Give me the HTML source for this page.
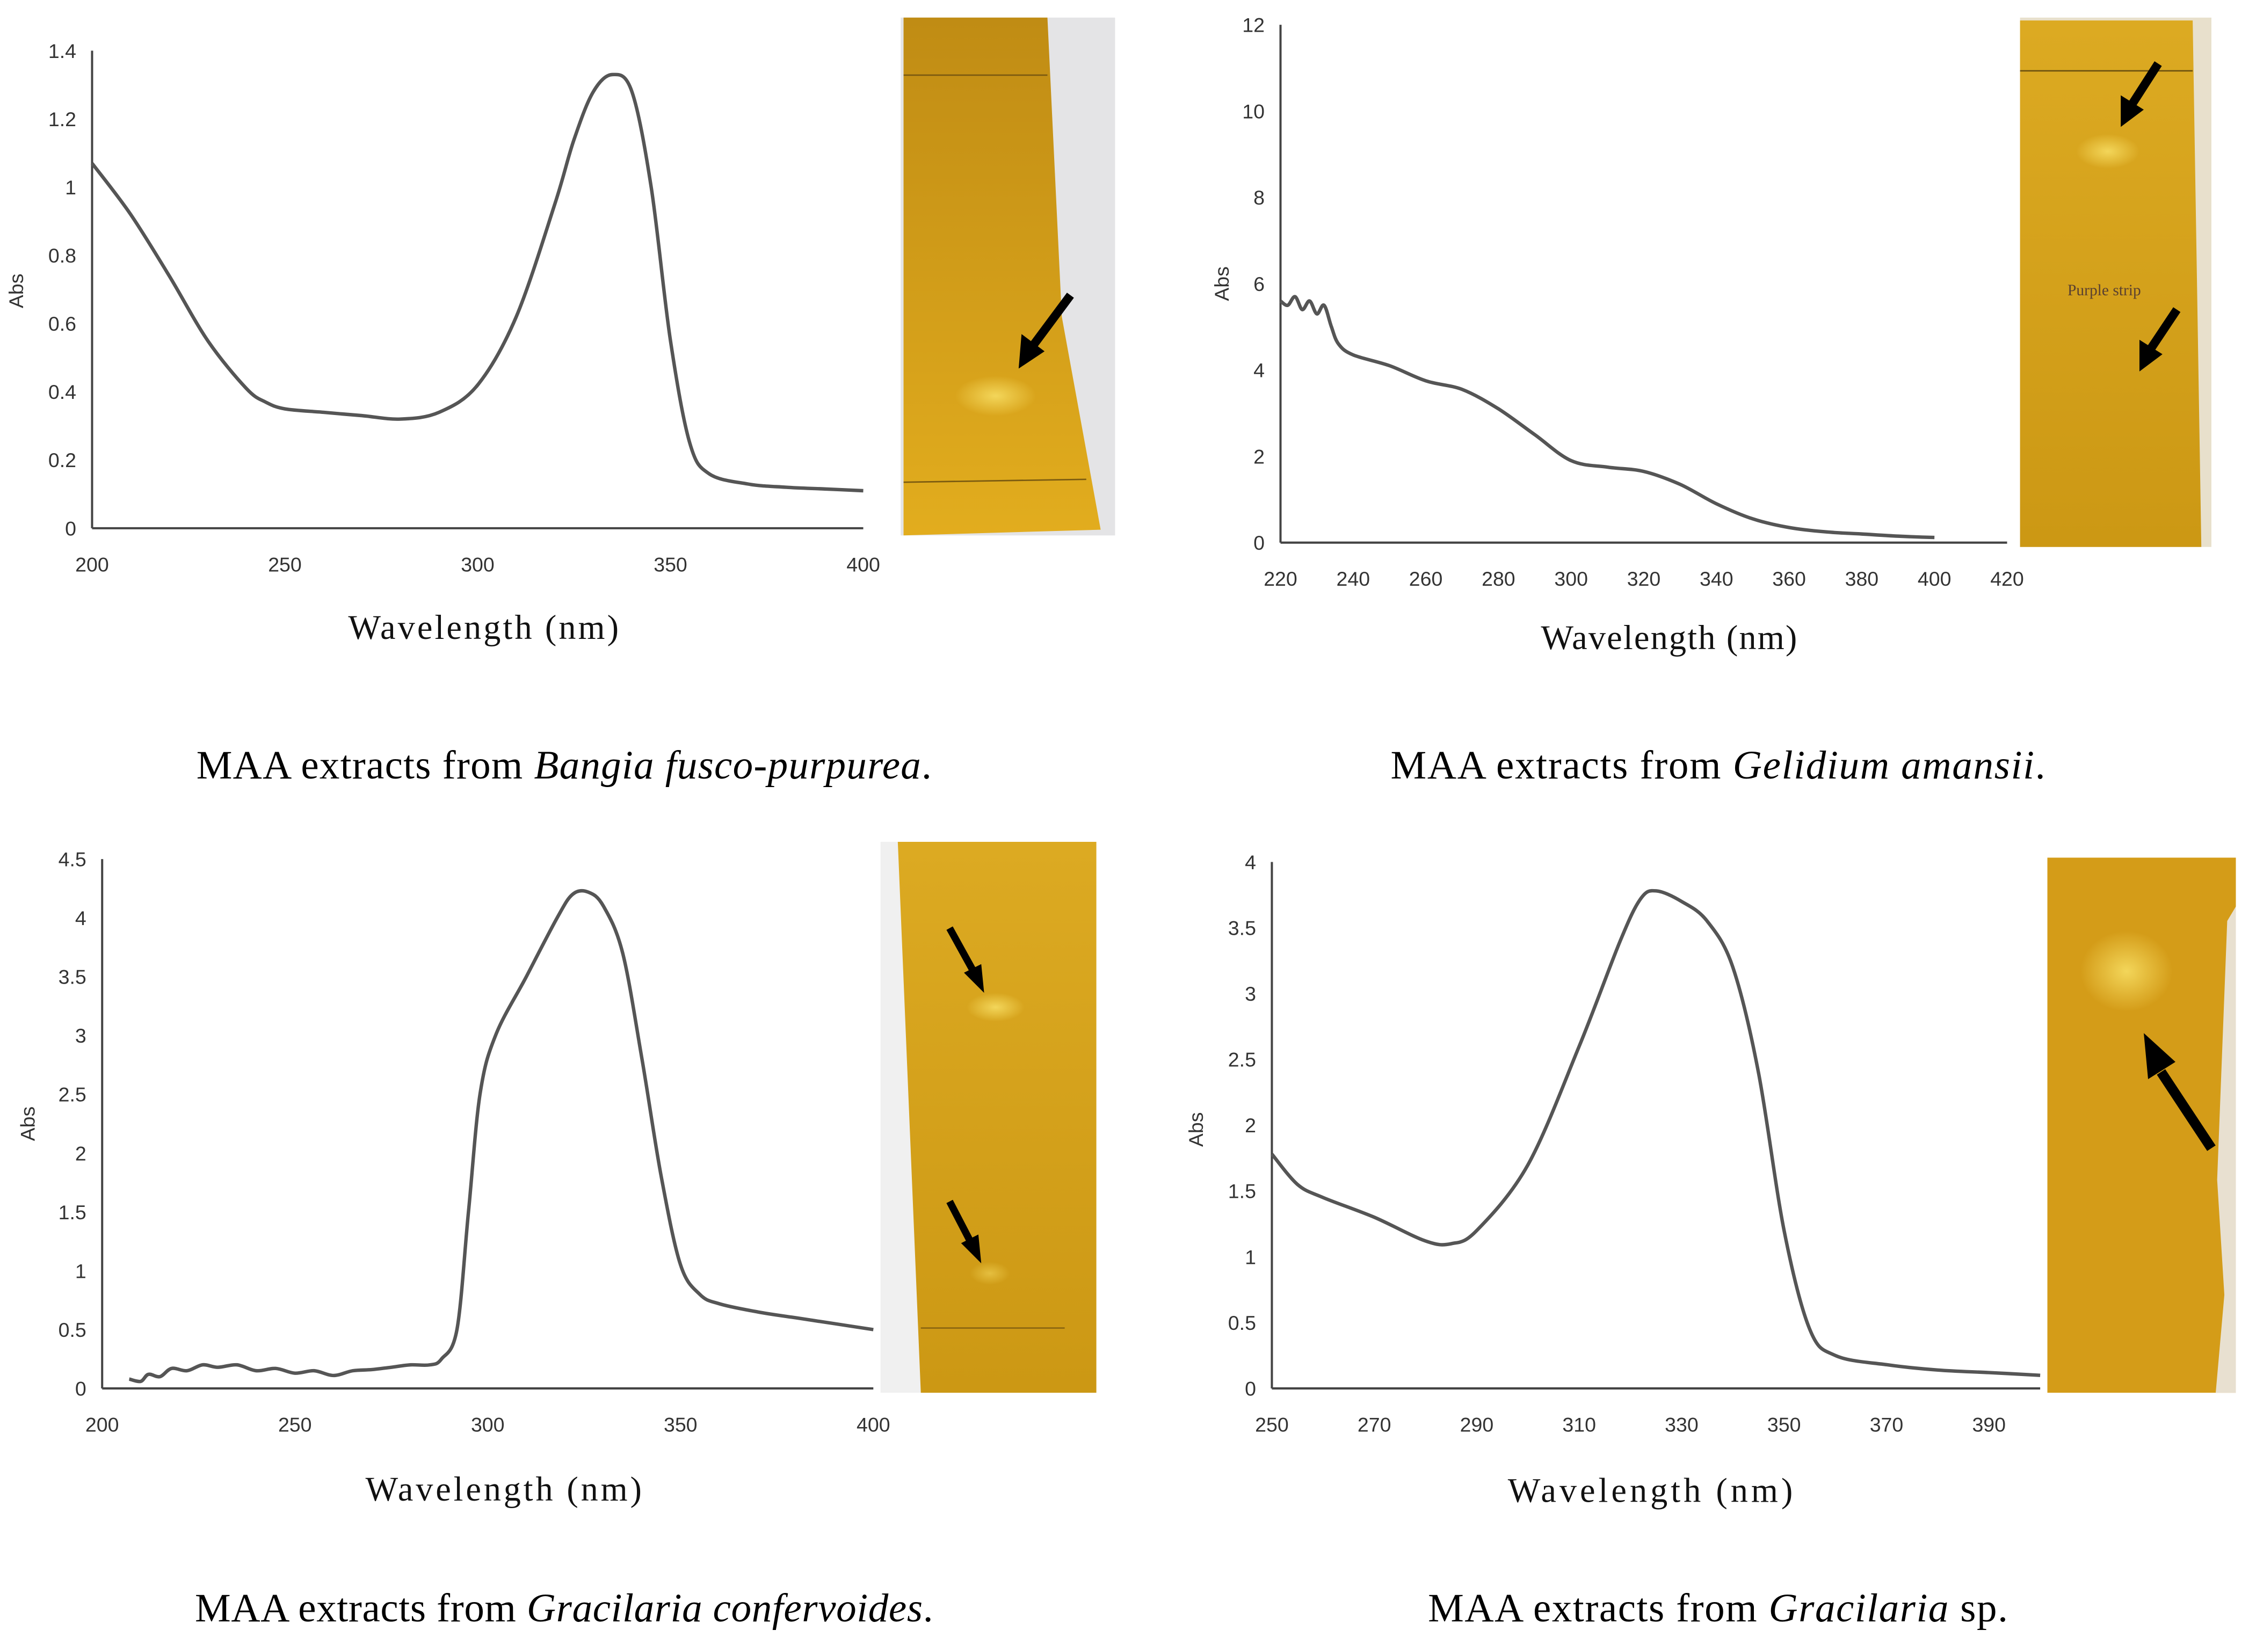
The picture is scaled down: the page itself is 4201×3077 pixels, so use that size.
<!DOCTYPE html>
<html><head><meta charset="utf-8"><style>
html,body{margin:0;padding:0;background:#fff}
svg{display:block}
.t{font-family:"Liberation Sans",sans-serif;font-size:14px;fill:#333}
.ti{font-family:"Liberation Serif",serif;font-size:24px;fill:#111}
.cap{font-family:"Liberation Serif",serif;font-size:28px;fill:#000}
</style></head><body>
<svg id="fig" width="4201" height="3077" viewBox="0 0 1568 1148" xmlns="http://www.w3.org/2000/svg">
<defs>
<linearGradient id="g1" x1="0" y1="0" x2="0" y2="1"><stop offset="0" stop-color="#c08c14"/><stop offset="1" stop-color="#e2ad1e"/></linearGradient>
<linearGradient id="g2" x1="0" y1="0" x2="0" y2="1"><stop offset="0" stop-color="#dcaa22"/><stop offset="1" stop-color="#cc9814"/></linearGradient>
<radialGradient id="spot"><stop offset="0" stop-color="#f3d65a"/><stop offset="1" stop-color="#f3d65a" stop-opacity="0"/></radialGradient>
</defs>
<g>
<rect x="626" y="12" width="149" height="360" fill="#e4e4e6"/>
<polygon points="628,12 728,12 738,220 765,368 628,372" fill="url(#g1)"/>
<line x1="628" y1="52" x2="728" y2="52" stroke="#7a5a10" stroke-width="1"/>
<line x1="628" y1="335" x2="755" y2="333" stroke="#7a5a10" stroke-width="1"/>
<ellipse cx="692" cy="275" rx="28" ry="14" fill="url(#spot)"/>
<line x1="744" y1="205" x2="718" y2="240" stroke="#000" stroke-width="6"/><polygon points="708,256 710,232 726,244" fill="#000"/>
</g>
<g>
<rect x="1404" y="12" width="133" height="368" fill="#e8e0cc"/>
<polygon points="1404,14 1524,14 1530,380 1404,380" fill="url(#g2)"/>
<line x1="1404" y1="49" x2="1524" y2="49" stroke="#6a5010" stroke-width="1"/>
<ellipse cx="1465" cy="105" rx="22" ry="12" fill="url(#spot)"/>
<text x="1437" y="205" font-family="Liberation Serif,serif" font-size="11" fill="#5a4030">Purple strip</text>
<line x1="1500" y1="44" x2="1482" y2="72" stroke="#000" stroke-width="6"/><polygon points="1474,88 1474,66 1490,76" fill="#000"/>
<line x1="1513" y1="215" x2="1495" y2="242" stroke="#000" stroke-width="6"/><polygon points="1487,258 1487,236 1503,246" fill="#000"/>
</g>
<g>
<rect x="612" y="585" width="150" height="383" fill="#f0f0f0"/>
<polygon points="624,585 762,585 762,968 640,968" fill="url(#g2)"/>
<ellipse cx="692" cy="700" rx="20" ry="10" fill="url(#spot)"/>
<ellipse cx="688" cy="885" rx="14" ry="8" fill="url(#spot)" opacity="0.6"/>
<line x1="660" y1="645" x2="676" y2="674" stroke="#000" stroke-width="5"/><polygon points="684,690 670,676 682,670" fill="#000"/>
<line x1="660" y1="835" x2="674" y2="862" stroke="#000" stroke-width="5"/><polygon points="682,878 668,864 680,858" fill="#000"/>
<line x1="640" y1="923" x2="740" y2="923" stroke="#8a6510" stroke-width="1"/>
</g>
<g>
<rect x="1423" y="596" width="131" height="372" fill="#d49c18"/>
<polygon points="1548,640 1554,630 1554,968 1540,968 1546,900 1541,820" fill="#e8e0d0"/>
<ellipse cx="1478" cy="675" rx="32" ry="28" fill="url(#spot)"/>
<line x1="1537" y1="798" x2="1502" y2="745" stroke="#000" stroke-width="7"/><polygon points="1490,718 1493,750 1512,738" fill="#000"/>
</g>
<g id="charts"></g>
<text class="cap" x="392" y="541" text-anchor="middle" textLength="511">MAA extracts from <tspan font-style="italic">Bangia fusco-purpurea</tspan>.</text>
<text class="cap" x="1194" y="541" text-anchor="middle" textLength="455">MAA extracts from <tspan font-style="italic">Gelidium amansii</tspan>.</text>
<text class="cap" x="392" y="1127" text-anchor="middle" textLength="513">MAA extracts from <tspan font-style="italic">Gracilaria confervoides</tspan>.</text>
<text class="cap" x="1194" y="1127" text-anchor="middle" textLength="403">MAA extracts from <tspan font-style="italic">Gracilaria</tspan> sp.</text>
</svg>
<script>
const p1X=[200,210,220,230,240,245,250,260,270,280,290,300,310,320,325,330,335,340,345,350,355,360,370,380,390,400];
const p1Y=[1.07,0.92,0.74,0.55,0.41,0.37,0.35,0.34,0.33,0.32,0.34,0.42,0.62,0.95,1.14,1.28,1.33,1.28,1.0,0.55,0.25,0.16,0.13,0.12,0.115,0.11];
const p1XT=[200,250,300,350,400];
const p1YT=[0,0.2,0.4,0.6,0.8,1,1.2,1.4];
const p2X=[220,222,224,226,228,230,232,234,236,240,250,260,270,280,290,300,310,320,330,340,350,360,370,380,390,400];
const p2Y=[5.6,5.5,5.7,5.4,5.6,5.3,5.5,5.0,4.6,4.35,4.1,3.75,3.55,3.1,2.5,1.9,1.75,1.65,1.35,0.9,0.55,0.35,0.25,0.2,0.15,0.12];
const p2XT=[220,240,260,280,300,320,340,360,380,400,420];
const p2YT=[0,2,4,6,8,10,12];
const p3X=[207,210,212,215,218,222,226,230,235,240,245,250,255,260,265,270,275,280,285,288,292,295,298,302,310,318,322,326,330,335,340,345,350,355,360,370,380,390,400];
const p3Y=[0.08,0.06,0.12,0.1,0.17,0.15,0.2,0.18,0.2,0.15,0.17,0.13,0.15,0.11,0.15,0.16,0.18,0.2,0.2,0.25,0.5,1.5,2.5,3.0,3.5,4.0,4.2,4.22,4.1,3.7,2.8,1.8,1.05,0.8,0.72,0.65,0.6,0.55,0.5];
const p3XT=[200,250,300,350,400];
const p3YT=[0,0.5,1,1.5,2,2.5,3,3.5,4,4.5];
const p4X=[250,255,260,270,280,285,290,300,310,318,322,325,330,335,340,345,350,355,360,370,380,390,400];
const p4Y=[1.78,1.55,1.45,1.3,1.12,1.1,1.2,1.7,2.6,3.4,3.72,3.78,3.7,3.55,3.2,2.4,1.2,0.45,0.25,0.18,0.14,0.12,0.1];
const p4XT=[250,270,290,310,330,350,370,390];
const p4YT=[0,0.5,1,1.5,2,2.5,3,3.5,4];

const NS="http://www.w3.org/2000/svg";
const root=document.getElementById('charts');
function mk(tag,attrs,parent){const e=document.createElementNS(NS,tag);for(const k in attrs)e.setAttribute(k,attrs[k]);parent.appendChild(e);return e;}
function smooth(pts){
  let d='M'+pts[0][0].toFixed(1)+','+pts[0][1].toFixed(1);
  for(let i=0;i<pts.length-1;i++){
    const p0=pts[Math.max(0,i-1)],p1=pts[i],p2=pts[i+1],p3=pts[Math.min(pts.length-1,i+2)];
    const c1=[p1[0]+(p2[0]-p0[0])/6,p1[1]+(p2[1]-p0[1])/6];
    const c2=[p2[0]-(p3[0]-p1[0])/6,p2[1]-(p3[1]-p1[1])/6];
    d+=` C${c1[0].toFixed(1)},${c1[1].toFixed(1)} ${c2[0].toFixed(1)},${c2[1].toFixed(1)} ${p2[0].toFixed(1)},${p2[1].toFixed(1)}`;
  }
  return d;
}
function chart(id,cfg,xs,ys,xt,yt){
  const g=mk('g',{},root);
  
  
  const sx=v=>cfg.x0+(v-cfg.xmin)/(cfg.xmax-cfg.xmin)*(cfg.x1-cfg.x0);
  const sy=v=>cfg.y0-(v-cfg.ymin)/(cfg.ymax-cfg.ymin)*(cfg.y0-cfg.y1);
  const ya=mk('line',{x1:cfg.x0,y1:cfg.y1,x2:cfg.x0,y2:cfg.y0,stroke:'#444','stroke-width':1.5},g);
  
  
  const xa=mk('line',{x1:cfg.x0,y1:cfg.y0,x2:cfg.xe,y2:cfg.y0,stroke:'#444','stroke-width':1.5},g);
  
  
  yt.forEach(v=>{const t=mk('text',{class:'t',x:cfg.x0-11,y:sy(v)+5,'text-anchor':'end'},g);t.textContent=String(v);
    
    });
  xt.forEach(v=>{const t=mk('text',{class:'t',x:sx(v),y:cfg.y0+30,'text-anchor':'middle'},g);t.textContent=String(v);
    
    });
  const pts=xs.map((x,i)=>[sx(x),sy(ys[i])]);
  const p=mk('path',{d:smooth(pts),fill:'none',stroke:'#555','stroke-width':2.4,'stroke-linejoin':'round'},g);
  
  
  const at=mk('text',{class:'t',x:cfg.ax,y:cfg.ay,'text-anchor':'middle',transform:`rotate(-90 ${cfg.ax} ${cfg.ay})`},g);at.textContent='Abs';
  
  
  const xt2=mk('text',{class:'ti',x:cfg.tx,y:cfg.ty,'text-anchor':'middle',textLength:cfg.tw},g);xt2.textContent='Wavelength (nm)';
  
  
}
chart('chart-bangia',{x0:64,x1:600,xe:600,xmin:200,xmax:400,y0:367,y1:35,ymin:0,ymax:1.4,ax:16,ay:202,tx:336,ty:444,tw:188},p1X,p1Y,p1XT,p1YT);
chart('chart-gelidium',{x0:890,x1:1395,xe:1395,xmin:220,xmax:420,y0:377,y1:17,ymin:0,ymax:12,ax:854,ay:197,tx:1160,ty:451,tw:178},p2X,p2Y,p2XT,p2YT);
chart('chart-gracilaria-confervoides',{x0:71,x1:607,xe:607,xmin:200,xmax:400,y0:965,y1:597,ymin:0,ymax:4.5,ax:24,ay:781,tx:350,ty:1043,tw:192},p3X,p3Y,p3XT,p3YT);
chart('chart-gracilaria-sp',{x0:884,x1:1418,xe:1418,xmin:250,xmax:400,y0:965,y1:599,ymin:0,ymax:4,ax:836,ay:785,tx:1147,ty:1044,tw:198},p4X,p4Y,p4XT,p4YT);
</script>
</body></html>
